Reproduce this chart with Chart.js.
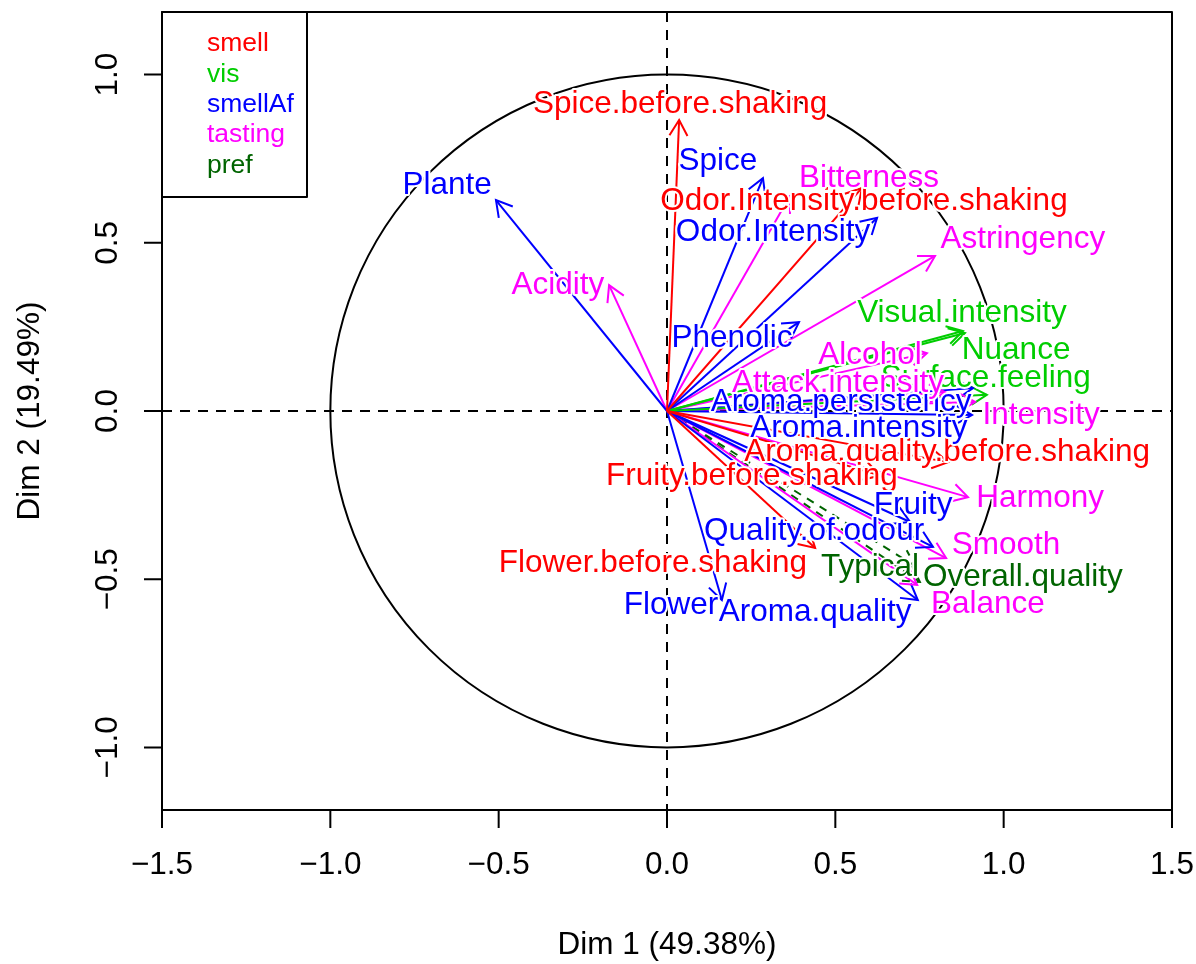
<!DOCTYPE html>
<html>
<head>
<meta charset="utf-8">
<script src="https://cdn.jsdelivr.net/npm/chart.js@4.4.0/dist/chart.umd.min.js"></script>
<style>
  body { margin: 0; background: #fff; }
  #wrap { width: 1196px; height: 964px; }
</style>
</head>
<body>
<div id="wrap"><canvas id="circle" width="1196" height="964"></canvas></div>
<script>
// variables of the correlation circle
const varNames = [
  'Odor.Intensity.before.shaking', 'Aroma.quality.before.shaking', 'Fruity.before.shaking',
  'Flower.before.shaking', 'Spice.before.shaking',
  'Visual.intensity', 'Nuance', 'Surface.feeling',
  'Odor.Intensity', 'Quality.of.odour', 'Fruity', 'Flower', 'Spice', 'Plante', 'Phenolic',
  'Aroma.intensity', 'Aroma.persistency', 'Aroma.quality',
  'Attack.intensity', 'Acidity', 'Astringency', 'Alcohol', 'Balance', 'Smooth',
  'Bitterness', 'Intensity', 'Harmony',
  'Overall.quality', 'Typical'
]
const varGroup = [
  'smell', 'smell', 'smell', 'smell', 'smell',
  'vis', 'vis', 'vis',
  'smellAf', 'smellAf', 'smellAf', 'smellAf', 'smellAf', 'smellAf', 'smellAf',
  'smellAf', 'smellAf', 'smellAf',
  'tasting', 'tasting', 'tasting', 'tasting', 'tasting', 'tasting',
  'tasting', 'tasting', 'tasting',
  'pref', 'pref'
]
const dim1 = [
  0.579, 0.835, 0.633, 0.440, 0.036,
  0.879, 0.885, 0.950,
  0.624, 0.790, 0.722, 0.163, 0.285, -0.508, 0.392,
  0.906, 0.909, 0.745,
  0.826, -0.172, 0.796, 0.772, 0.743, 0.829,
  0.365, 0.915, 0.894,
  0.751, 0.737
]
const dim2 = [
  0.663, -0.152, -0.192, -0.407, 0.865,
  0.238, 0.232, 0.048,
  0.574, -0.404, -0.330, -0.562, 0.692, 0.627, 0.264,
  -0.012, 0.068, -0.562,
  0.056, 0.374, 0.461, 0.172, -0.517, -0.437,
  0.639, 0.027, -0.256,
  -0.508, -0.461
]
// where each label sits (in axis units)
const labelX = [
  0.585, 0.832, 0.252, -0.042, 0.039,
  0.876, 1.037, 0.947,
  0.315, 0.437, 0.731, 0.012, 0.151, -0.653, 0.193,
  0.570, 0.517, 0.440,
  0.508, -0.324, 1.057, 0.603, 0.953, 1.007,
  0.600, 1.111, 1.108,
  1.057, 0.603
]
const labelY = [
  0.624, -0.122, -0.193, -0.452, 0.912,
  0.291, 0.181, 0.098,
  0.532, -0.357, -0.279, -0.577, 0.743, 0.672, 0.217,
  -0.051, 0.027, -0.597,
  0.083, 0.374, 0.511, 0.166, -0.574, -0.398,
  0.692, -0.012, -0.259,
  -0.493, -0.464
]

const groupNames = ['smell', 'vis', 'smellAf', 'tasting', 'pref']
const groupColors = ['#FF0000', '#00CD00', '#0000FF', '#FF00FF', '#006400']
const supGroups = ['pref']

const xTicks = [-1.5, -1, -0.5, 0, 0.5, 1, 1.5]
const yTicks = [-1, -0.5, 0, 0.5, 1]
const xTitle = 'Dim 1 (49.38%)'
const yTitle = 'Dim 2 (19.49%)'

const FONT = '"Liberation Sans", Arial, Helvetica, sans-serif'

function colorOf(g) {
    return groupColors[groupNames.indexOf(g)]
}

function fmtTick(v) {
    return (v < 0 ? '\u2212' : '') + Math.abs(v).toFixed(1)
}

// one line dataset per variable, from the origin to its coordinates
const datasets = varNames.map((name, i) => {
    const sup = supGroups.includes(varGroup[i])
    return {
        label: name,
        data: [{x: 0, y: 0}, {x: dim1[i], y: dim2[i]}],
        showLine: true,
        borderColor: colorOf(varGroup[i]),
        borderWidth: 2,
        borderDash: sup ? [8, 7] : [],
        pointRadius: 0,
        fill: false
    }
})

const decor = {
    id: 'decor',
    beforeDatasetsDraw(chart) {
        const ctx = chart.ctx
        const xs = chart.scales.x
        const ys = chart.scales.y
        const area = chart.chartArea
        const x0 = xs.getPixelForValue(0)
        const y0 = ys.getPixelForValue(0)
        ctx.save()
        // unit circle
        ctx.strokeStyle = '#000'
        ctx.lineWidth = 2
        ctx.beginPath()
        ctx.ellipse(x0, y0, xs.getPixelForValue(1) - x0, y0 - ys.getPixelForValue(1), 0, 0, Math.PI * 2)
        ctx.stroke()
        // dashed axes through origin
        ctx.setLineDash([10, 8])
        ctx.beginPath()
        ctx.moveTo(area.left, y0)
        ctx.lineTo(area.right, y0)
        ctx.moveTo(x0, area.top)
        ctx.lineTo(x0, area.bottom)
        ctx.stroke()
        ctx.restore()
    },
    afterDatasetsDraw(chart) {
        const ctx = chart.ctx
        const xs = chart.scales.x
        const ys = chart.scales.y
        const area = chart.chartArea
        const x0 = xs.getPixelForValue(0)
        const y0 = ys.getPixelForValue(0)
        ctx.save()

        //Pontas das flechas
        varNames.forEach((name, i) => {
            const px = xs.getPixelForValue(dim1[i])
            const py = ys.getPixelForValue(dim2[i])
            const ang = Math.atan2(py - y0, px - x0)
            const len = 18
            ctx.strokeStyle = colorOf(varGroup[i])
            ctx.lineWidth = 2
            ctx.setLineDash(supGroups.includes(varGroup[i]) ? [8, 7] : [])
            ctx.beginPath()
            ctx.moveTo(px - len * Math.cos(ang - Math.PI / 6), py - len * Math.sin(ang - Math.PI / 6))
            ctx.lineTo(px, py)
            ctx.lineTo(px - len * Math.cos(ang + Math.PI / 6), py - len * Math.sin(ang + Math.PI / 6))
            ctx.stroke()
        })
        ctx.setLineDash([])

        //Rotulos
        ctx.font = '31.5px ' + FONT
        ctx.textAlign = 'center'
        ctx.textBaseline = 'middle'
        ctx.lineJoin = 'round'
        varNames.forEach((name, i) => {
            const lx = xs.getPixelForValue(labelX[i])
            const ly = ys.getPixelForValue(labelY[i])
            ctx.strokeStyle = '#fff'
            ctx.lineWidth = 4
            ctx.strokeText(name, lx, ly)
            ctx.fillStyle = colorOf(varGroup[i])
            ctx.fillText(name, lx, ly)
        })

        // box
        ctx.strokeStyle = '#000'
        ctx.lineWidth = 2
        ctx.strokeRect(area.left, area.top, area.right - area.left, area.bottom - area.top)

        // ticks
        ctx.fillStyle = '#000'
        ctx.font = '31.5px ' + FONT
        ctx.beginPath()
        xTicks.forEach(v => {
            const p = xs.getPixelForValue(v)
            ctx.moveTo(p, area.bottom)
            ctx.lineTo(p, area.bottom + 18)
        })
        yTicks.forEach(v => {
            const p = ys.getPixelForValue(v)
            ctx.moveTo(area.left, p)
            ctx.lineTo(area.left - 18, p)
        })
        ctx.stroke()
        xTicks.forEach(v => {
            ctx.fillText(fmtTick(v), xs.getPixelForValue(v), area.bottom + 55)
        })
        yTicks.forEach(v => {
            ctx.save()
            ctx.translate(area.left - 54, ys.getPixelForValue(v))
            ctx.rotate(-Math.PI / 2)
            ctx.fillText(fmtTick(v), 0, 0)
            ctx.restore()
        })

        // axis titles
        ctx.fillText(xTitle, (area.left + area.right) / 2, area.bottom + 135)
        ctx.save()
        ctx.translate(area.left - 132, (area.top + area.bottom) / 2)
        ctx.rotate(-Math.PI / 2)
        ctx.fillText(yTitle, 0, 0)
        ctx.restore()

        // legend
        ctx.fillStyle = '#fff'
        ctx.fillRect(area.left, area.top, 145, 185)
        ctx.strokeRect(area.left, area.top, 145, 185)
        ctx.font = '26.5px ' + FONT
        ctx.textAlign = 'left'
        groupNames.forEach((g, i) => {
            ctx.fillStyle = groupColors[i]
            ctx.fillText(g, area.left + 45, area.top + 32 + i * 30.3)
        })
        ctx.restore()
    }
}

new Chart(document.getElementById('circle'), {
    type: 'scatter',
    data: { datasets: datasets },
    options: {
        responsive: false,
        animation: false,
        layout: { padding: { left: 162, top: 12, right: 24, bottom: 154 } },
        scales: {
            x: { type: 'linear', min: -1.5, max: 1.5, display: false },
            y: { type: 'linear', min: -1.186, max: 1.186, display: false }
        },
        plugins: {
            legend: { display: false },
            tooltip: { enabled: false }
        }
    },
    plugins: [decor]
})
</script>
</body>
</html>
